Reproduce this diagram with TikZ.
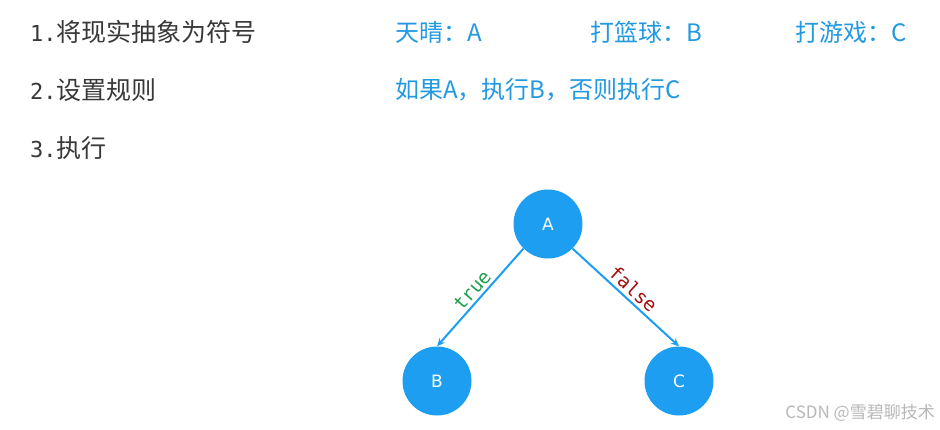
\documentclass[tikz,border=0pt]{standalone}
\usepackage{fontspec}
\setmainfont{Noto Sans CJK SC}
\newfontfamily\cjkf{Noto Sans CJK SC}
\newfontfamily\monof{DejaVu Sans Mono}
\newfontfamily\sansf{DejaVu Sans}
\usetikzlibrary{arrows.meta}
\definecolor{nodeblue}{HTML}{1E9EF0}
\definecolor{textblue}{HTML}{2399E2}
\definecolor{darktext}{HTML}{383838}
\definecolor{truegreen}{HTML}{1F9E4E}
\definecolor{falsered}{HTML}{A50F0F}
\begin{document}
\begin{tikzpicture}[x=1pt,y=-1pt,
  circnode/.style={circle,fill=nodeblue,minimum size=69pt,inner sep=0pt,text=white,font=\sansf\fontsize{17}{17}\selectfont},
  stepline/.style={anchor=west,text=darktext,font=\cjkf\fontsize{25}{25}\selectfont,inner sep=0pt},
  bluetext/.style={anchor=west,text=textblue,font=\cjkf\fontsize{24}{24}\selectfont,inner sep=0pt},
  edge/.style={draw=nodeblue,line width=2pt,-{Stealth[length=8pt,width=7pt]}},
  lbl/.style={font=\monof\fontsize{19}{19}\selectfont,inner sep=3pt}
]
\useasboundingbox (0,0) rectangle (940,429);
\fill[white] (0,0) rectangle (940,429);

\node[stepline] (s1) at (30,32) {{\monof\fontsize{22}{22}\selectfont 1.}将现实抽象为符号};
\node[stepline] (s2) at (30,90) {{\monof\fontsize{22}{22}\selectfont 2.}设置规则};
\node[stepline] (s3) at (30,148) {{\monof\fontsize{22}{22}\selectfont 3.}执行};

\node[bluetext] (tA) at (395,32) {天晴：A};
\node[bluetext] (tB) at (590,32) {打篮球：B};
\node[bluetext] (tC) at (795,32) {打游戏：C};
\node[bluetext] (rule) at (395,90) {如果A，执行B，否则执行C};

\node[circnode] (A) at (548,224) {A};
\node[circnode] (B) at (437,381) {B};
\node[circnode] (C) at (679,381) {C};

\draw[edge] (A.225) -- (B.north) node[midway,sloped,above,lbl,text=truegreen] {true};
\draw[edge] (A.-45) -- (C.north) node[midway,sloped,above,lbl,text=falsered] {false};

\node[anchor=east,text=black!28,font=\cjkf\fontsize{17}{17}\selectfont,inner sep=0pt] (wm) at (935,413) {CSDN @雪碧聊技术};
\end{tikzpicture}
\end{document}
